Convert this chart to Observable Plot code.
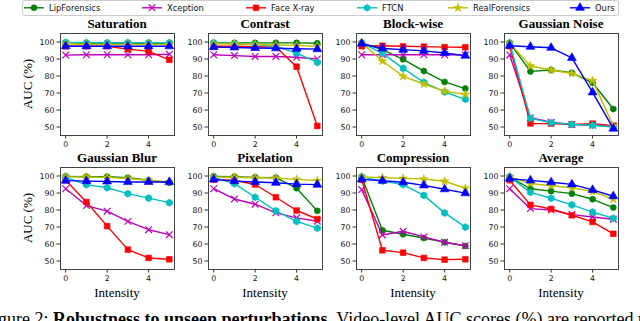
<!DOCTYPE html>
<html><head><meta charset="utf-8">
<script src="https://cdn.jsdelivr.net/npm/d3@7"></script>
<script src="https://cdn.jsdelivr.net/npm/@observablehq/plot@0.6"></script>
<style>
body{margin:0;background:#fff;}
#fig{position:relative;width:640px;height:321px;overflow:hidden;background:#fff;}
#fig svg{position:absolute;}
</style></head><body><div id="fig"></div>
<script>
// ---------- data ----------
const methods = ["LipForensics","Xception","Face X-ray","FTCN","RealForensics","Ours"];
const colors  = ["#008000","#bf00bf","#ff0000","#00bfbf","#bfbf00","#0000ff"];
const symbols = ["circle","times","square","hexagon","star","triangle"];
const intensities = [0,1,2,3,4,5];
const panelTitles = ["Saturation","Contrast","Block-wise","Gaussian Noise","Gaussian Blur","Pixelation","Compression","Average"];
const yTicks = [50,60,70,80,90,100];
const xTicks = [0,2,4];
const yLabel = "AUC (%)";
const xLabel = "Intensity";

// rows follow the methods order
const saturation = [
  [99.5,99.3,99.3,99.3,99.3,99.3],
  [92.3,92.5,92.5,92.5,92.5,92.8],
  [97.5,97.5,97.5,95.8,94.5,89.5],
  [99.8,99.6,99.6,99.6,99.6,99.6],
  [99.0,98.5,98.5,98.5,98.5,98.5],
  [97.5,97.5,97.5,97.5,97.5,97.5]];
const contrast = [
  [99.5,99.5,99.5,99.5,99.5,99.3],
  [92.5,92.0,91.5,91.5,91.0,90.0],
  [97.5,97.5,97.2,97.0,85.5,50.6],
  [99.5,99.0,98.5,97.5,93.5,88.0],
  [99.0,98.8,98.5,98.2,98.0,97.5],
  [97.0,96.8,96.5,96.3,96.0,95.8]];
const blockwise = [
  [99.5,95.5,89.8,82.9,76.5,72.6],
  [92.5,92.5,92.5,92.5,92.5,92.3],
  [97.5,97.8,97.5,97.3,97.0,96.9],
  [99.5,93.3,84.5,76.3,70.6,66.3],
  [99.5,88.8,79.8,75.3,71.0,69.2],
  [99.0,96.2,95.5,94.8,93.5,92.0]];
const gaussianNoise = [
  [99.5,82.7,83.5,81.9,76.0,60.6],
  [92.4,55.5,52.8,51.5,51.0,50.5],
  [97.5,52.1,52.0,51.5,52.0,50.8],
  [99.5,55.1,52.5,51.5,51.0,50.0],
  [99.5,85.9,83.5,81.5,77.3,50.6],
  [97.8,97.2,96.6,90.6,70.4,49.0]];
const gaussianBlur = [
  [99.8,99.6,99.6,99.0,97.5,96.0],
  [92.5,82.6,79.3,73.3,68.4,65.5],
  [97.5,84.7,70.5,56.7,51.8,51.0],
  [99.2,94.9,93.1,89.6,87.0,84.3],
  [99.5,99.5,99.2,98.5,97.5,96.5],
  [97.3,97.0,96.8,96.5,96.5,96.5]];
const pixelation = [
  [99.8,99.6,99.2,99.0,92.8,79.5],
  [92.5,86.5,83.4,78.3,75.4,73.4],
  [97.8,97.5,95.0,87.5,79.7,74.7],
  [99.2,95.5,87.5,79.5,73.3,69.3],
  [99.5,99.3,99.0,98.8,98.0,97.3],
  [98.0,97.0,96.5,96.0,95.2,94.9]];
const compression = [
  [99.5,68.1,65.7,63.5,61.0,58.8],
  [92.0,65.3,67.5,64.2,61.0,59.0],
  [97.8,56.3,54.9,51.8,50.8,51.0],
  [99.5,97.0,94.9,88.6,78.3,69.9],
  [99.5,99.0,98.6,98.2,96.9,92.8],
  [98.0,97.2,96.3,94.5,92.2,89.9]];
const average = [
  [99.5,92.5,91.1,89.6,86.3,81.4],
  [92.5,80.8,80.0,77.3,75.9,74.6],
  [97.5,83.0,80.6,76.9,73.0,66.0],
  [99.5,90.4,86.9,83.0,78.8,75.1],
  [99.5,95.6,94.3,93.1,90.9,86.4],
  [98.4,97.4,96.3,95.1,91.8,88.1]];
const panelData = [saturation,contrast,blockwise,gaussianNoise,gaussianBlur,pixelation,compression,average];

// ---------- layout ----------
const frameLefts = [60,208,356,504];
const frameTops = [33,167];
const frameW = 114, frameH = 102;
const ML = 32, MR = 4, MT = 4, MB = 22;
const markerR = {circle:3.0, times:3.1, square:3.2, hexagon:3.1, star:2.7, triangle:3.3};

const fig = document.getElementById("fig");

panelData.forEach((series, k) => {
  const col = k % 4, row = Math.floor(k / 4);
  const marks = [];
  methods.forEach((m, i) => {
    const rows = intensities.map((x, j) => ({x, y: series[i][j], method: m}));
    marks.push(Plot.line(rows, {x: "x", y: "y", stroke: colors[i], strokeWidth: 1.4}));
    const sym = symbols[i];
    marks.push(Plot.dot(rows, {
      x: "x", y: "y", symbol: sym, r: markerR[sym],
      fill: sym === "times" ? "none" : colors[i],
      stroke: colors[i], strokeWidth: sym === "times" ? 1.2 : 0.6
    }));
  });
  marks.push(Plot.frame({stroke: "#444", strokeWidth: 1}));
  marks.push(Plot.axisX({ticks: xTicks, tickSize: 3.5, tickPadding: 2, label: null, tickFormat: d => String(d), stroke: "#333"}));
  marks.push(Plot.axisY({ticks: yTicks, tickSize: 3.5, tickPadding: 2.5, label: null, stroke: "#333"}));
  const svg = Plot.plot({
    width: frameW + ML + MR, height: frameH + MT + MB,
    marginLeft: ML, marginRight: MR, marginTop: MT, marginBottom: MB,
    x: {domain: [-0.25, 5.25]},
    y: {domain: [45, 105]},
    style: {background: "transparent", fontFamily: "'DejaVu Sans'", fontSize: "7.8px", color: "#111", overflow: "visible"},
    marks
  });
  svg.style.left = (frameLefts[col] - ML) + "px";
  svg.style.top = (frameTops[row] - MT) + "px";
  svg.style.maxWidth = "none";
  fig.appendChild(svg);
});

// ---------- overlay text: titles, axis labels, legend, caption ----------
const ov = d3.select(fig).append("svg")
  .attr("width", 640).attr("height", 321)
  .style("left", "0px").style("top", "0px").style("pointer-events", "none");
const serif = "'Liberation Serif','Times New Roman',serif";

panelTitles.forEach((t, k) => {
  const col = k % 4, row = Math.floor(k / 4);
  ov.append("text").attr("x", frameLefts[col] + frameW / 2).attr("y", frameTops[row] - 5)
    .attr("text-anchor", "middle").attr("font-family", serif).attr("font-weight", "bold")
    .attr("font-size", 13).attr("fill", "#000").text(t);
});
frameTops.forEach(ft => {
  ov.append("text").attr("transform", `translate(32,${ft + frameH / 2}) rotate(-90)`)
    .attr("text-anchor", "middle").attr("font-family", serif).attr("font-size", 13).attr("fill", "#000").text(yLabel);
});
frameLefts.forEach(fl => {
  ov.append("text").attr("x", fl + frameW / 2).attr("y", 297)
    .attr("text-anchor", "middle").attr("font-family", serif).attr("font-size", 13).attr("fill", "#000").text(xLabel);
});

// legend
ov.append("rect").attr("x", 22.5).attr("y", 0.5).attr("width", 596).attr("height", 15).attr("rx", 2)
  .attr("fill", "#fff").attr("stroke", "#ccc");
const legendX = [24,142,246,357,448,570];
function hexPath(r) {
  const p = [];
  for (let a = 0; a < 6; a++) { const t = Math.PI / 3 * a + Math.PI / 6; p.push([r * Math.cos(t), r * Math.sin(t)]); }
  return "M" + p.map(q => q.join(",")).join("L") + "Z";
}
const d3sym = {circle: d3.symbolCircle, times: d3.symbolTimes, square: d3.symbolSquare, star: d3.symbolStar, triangle: d3.symbolTriangle};
methods.forEach((m, i) => {
  const x0 = legendX[i], cy = 7.8;
  ov.append("line").attr("x1", x0).attr("x2", x0 + 20).attr("y1", cy).attr("y2", cy)
    .attr("stroke", colors[i]).attr("stroke-width", 1.4);
  const sym = symbols[i], r = markerR[sym];
  const d = sym === "hexagon" ? hexPath(r * 1.1) : d3.symbol(d3sym[sym], Math.PI * r * r)();
  ov.append("path").attr("d", d).attr("transform", `translate(${x0 + 10},${cy})`)
    .attr("fill", sym === "times" ? "none" : colors[i]).attr("stroke", colors[i])
    .attr("stroke-width", sym === "times" ? 1.2 : 0.6);
  ov.append("text").attr("x", x0 + 25).attr("y", cy + 3).attr("font-family", "'DejaVu Sans'")
    .attr("font-size", 8.4).attr("fill", "#111").text(m);
});

// caption (cut by the page edges, as in the reference)
const cap = ov.append("text").attr("y", 325).attr("font-family", serif).attr("font-size", 18).attr("fill", "#000");
const t1 = cap.append("tspan").text("Figure 2: ");
cap.append("tspan").attr("font-weight", "bold").text("Robustness to unseen perturbations.");
cap.append("tspan").text(" Video-level AUC scores (%) are reported under");
const w1 = t1.node().getComputedTextLength();
cap.attr("x", 53 - w1);
</script></body></html>
